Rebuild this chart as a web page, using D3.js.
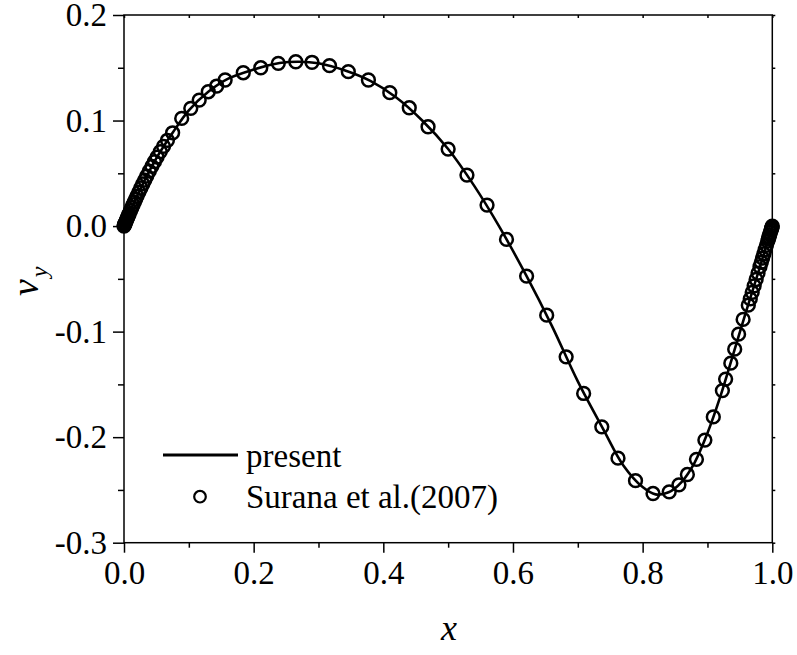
<!DOCTYPE html>
<html>
<head>
<meta charset="utf-8">
<script src="https://cdn.jsdelivr.net/npm/d3@7"></script>
<style>
  body { margin: 0; background: #fff; }
  svg { display: block; }
  text { font-family: "Liberation Serif", "Times New Roman", serif; fill: #000; }
</style>
</head>
<body>
<div id="chart"></div>
<script>
// "present" solution
var presentX = [0, 0.01, 0.025, 0.05, 0.075, 0.1, 0.13, 0.16, 0.2, 0.24, 0.27, 0.3, 0.34, 0.38, 0.42, 0.46, 0.5, 0.54, 0.58, 0.62,
  0.66, 0.7, 0.74, 0.77, 0.8, 0.82, 0.84, 0.86, 0.88, 0.9, 0.92, 0.94, 0.96, 0.98, 1.0];
var presentY = [0, 0.0146, 0.0348, 0.0643, 0.0884, 0.1097, 0.1273, 0.1395, 0.1483, 0.1545, 0.1557, 0.1542, 0.1476, 0.1375, 0.1218,
  0.1000, 0.073, 0.0383, -0.0017, -0.0463, -0.0945, -0.1472, -0.1933, -0.2266, -0.2473, -0.2542, -0.2522, -0.2425, -0.2243,
  -0.1962, -0.1612, -0.1208, -0.0802, -0.0405, 0];

// Surana et al.(2007) markers
var suranaX = [0, 0.0005, 0.001, 0.0015, 0.002, 0.003, 0.004, 0.005, 0.006, 0.007, 0.008, 0.010, 0.012, 0.014, 0.016, 0.018,
  0.020, 0.023, 0.026, 0.029, 0.032, 0.035, 0.039, 0.043, 0.047, 0.051, 0.056, 0.061, 0.067, 0.075, 0.089, 0.103, 0.116,
  0.130, 0.143, 0.156, 0.184, 0.211, 0.238, 0.265, 0.290, 0.317, 0.346, 0.377, 0.410, 0.440, 0.469, 0.500, 0.529, 0.560,
  0.590, 0.621, 0.652, 0.682, 0.709, 0.737, 0.762, 0.789, 0.816, 0.841, 0.856, 0.869, 0.883, 0.896, 0.909, 0.923, 0.928,
  0.936, 0.942, 0.948, 0.955, 0.963, 0.966, 0.969, 0.972, 0.975, 0.978, 0.981, 0.983, 0.985, 0.987, 0.989, 0.991, 0.993,
  0.994, 0.995, 0.996, 0.997, 0.998, 0.9985, 0.999, 0.9995, 1.0];
var suranaY = [0, 0.0008, 0.0015, 0.0022, 0.0030, 0.0045, 0.0059, 0.0074, 0.0088, 0.0103, 0.0117, 0.0146, 0.0174, 0.0202,
  0.0229, 0.0256, 0.0283, 0.0322, 0.0361, 0.0399, 0.0436, 0.0473, 0.0520, 0.0566, 0.0610, 0.0654, 0.0706, 0.0756, 0.0813,
  0.0884, 0.102, 0.1116, 0.1194, 0.1273, 0.1327, 0.1384, 0.1453, 0.150, 0.1542, 0.1557, 0.1552, 0.152, 0.1463, 0.1384,
  0.1264, 0.1121, 0.0941, 0.073, 0.0483, 0.0199, -0.0126, -0.0474, -0.0844, -0.1239, -0.1586, -0.1902, -0.2199, -0.2412,
  -0.2534, -0.2518, -0.2452, -0.2354, -0.2210, -0.2028, -0.1808, -0.1559, -0.145, -0.1299, -0.1166, -0.1024, -0.0884,
  -0.0749, -0.0690, -0.0628, -0.0566, -0.0506, -0.0445, -0.0385, -0.0344, -0.0304, -0.0263, -0.0223, -0.0182, -0.0142,
  -0.0122, -0.0101, -0.0081, -0.0061, -0.0041, -0.0030, -0.0020, -0.0010, 0];

var xTicks = [0, 0.2, 0.4, 0.6, 0.8, 1.0];
var xMinor = [0.1, 0.3, 0.5, 0.7, 0.9];
var yTicks = [-0.3, -0.2, -0.1, 0, 0.1, 0.2];
var yMinor = [-0.25, -0.15, -0.05, 0.05, 0.15];
var legendLabels = ['present', 'Surana et al.(2007)'];

var width = 797, height = 655;
var plotL = 124, plotR = 772.3, plotT = 15, plotB = 542.7;

var svg = d3.select('#chart').append('svg')
  .attr('width', width)
  .attr('height', height);

var x = d3.scaleLinear().domain([0, 1]).range([plotL, plotR]);
var y = d3.scaleLinear().domain([-0.3, 0.2]).range([plotB, plotT]);
var fmt = function(d) { return d.toFixed(1); };

function styleAxis(g) {
  g.select('.domain').remove();
  g.selectAll('.tick line').attr('stroke', '#000').attr('stroke-width', 1.5);
  g.selectAll('.tick text').attr('font-size', 33).style('font-family', '"Liberation Serif", serif');
}

// bottom axis
svg.append('g').attr('transform', 'translate(0,' + plotB + ')')
  .call(d3.axisBottom(x).tickValues(xTicks).tickFormat(fmt).tickSize(10).tickPadding(8))
  .call(styleAxis);
svg.append('g').attr('transform', 'translate(0,' + plotB + ')')
  .call(d3.axisBottom(x).tickValues(xMinor).tickFormat('').tickSize(5))
  .call(styleAxis);

// left axis
svg.append('g').attr('transform', 'translate(' + plotL + ',0)')
  .call(d3.axisLeft(y).tickValues(yTicks).tickFormat(fmt).tickSize(11).tickPadding(6))
  .call(styleAxis);
svg.append('g').attr('transform', 'translate(' + plotL + ',0)')
  .call(d3.axisLeft(y).tickValues(yMinor).tickFormat('').tickSize(6))
  .call(styleAxis);

// top and right: small ticks, no labels
svg.append('g').attr('transform', 'translate(0,' + plotT + ')')
  .call(d3.axisBottom(x).tickValues(xTicks.concat(xMinor)).tickFormat('').tickSize(3))
  .call(styleAxis);
svg.append('g').attr('transform', 'translate(' + plotR + ',0)')
  .call(d3.axisRight(y).tickValues(yTicks.concat(yMinor)).tickFormat('').tickSize(3))
  .call(styleAxis);

// frame
svg.append('rect')
  .attr('x', plotL).attr('y', plotT)
  .attr('width', plotR - plotL).attr('height', plotB - plotT)
  .attr('fill', 'none').attr('stroke', '#000').attr('stroke-width', 1.5);

// present line
var line = d3.line()
  .x(function(d) { return x(d[0]); })
  .y(function(d) { return y(d[1]); })
  .curve(d3.curveCatmullRom);

svg.append('path')
  .datum(d3.zip(presentX, presentY))
  .attr('d', line)
  .attr('fill', 'none')
  .attr('stroke', '#000')
  .attr('stroke-width', 2.6);

// markers
svg.selectAll('.marker')
  .data(d3.zip(suranaX, suranaY))
  .enter()
  .append('circle')
  .attr('class', 'marker')
  .attr('cx', function(d) { return x(d[0]); })
  .attr('cy', function(d) { return y(d[1]); })
  .attr('r', 6.4)
  .attr('fill', 'none')
  .attr('stroke', '#000')
  .attr('stroke-width', 2.5);

// legend
var lg = svg.append('g');
lg.append('line')
  .attr('x1', 163).attr('x2', 238).attr('y1', 455).attr('y2', 455)
  .attr('stroke', '#000').attr('stroke-width', 3);
lg.append('text').attr('x', 246).attr('y', 466.5).attr('font-size', 33).text(legendLabels[0]);
lg.append('circle')
  .attr('cx', 200).attr('cy', 496.7).attr('r', 5.8)
  .attr('fill', 'none').attr('stroke', '#000').attr('stroke-width', 2.2);
lg.append('text').attr('x', 246).attr('y', 508).attr('font-size', 33).text(legendLabels[1]);

// axis titles
svg.append('text')
  .attr('x', 449).attr('y', 640)
  .attr('text-anchor', 'middle')
  .attr('font-size', 36)
  .attr('font-style', 'italic')
  .text('x');

var yt = svg.append('text')
  .attr('transform', 'translate(38,296) rotate(-90)')
  .attr('font-size', 38)
  .attr('font-style', 'italic');
yt.append('tspan').text('v');
yt.append('tspan').attr('font-size', 24).attr('dy', 9).attr('dx', 2).text('y');
</script>
</body>
</html>
